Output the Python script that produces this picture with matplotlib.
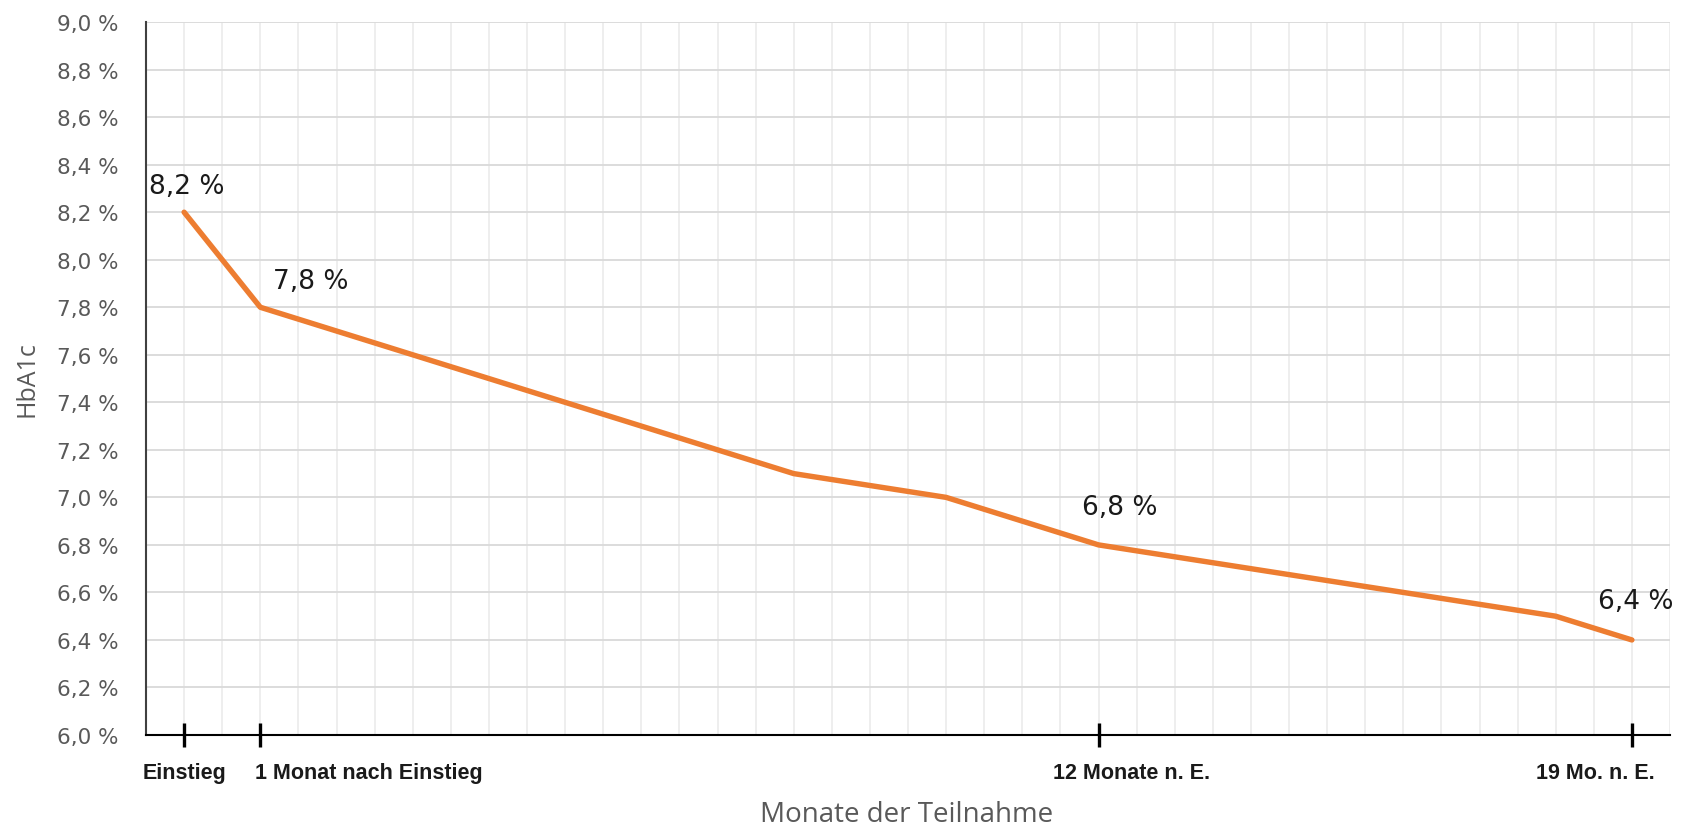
"""HbA1c over months of participation."""

import matplotlib

matplotlib.use("Agg")
import matplotlib.pyplot as plt
import numpy as np
from matplotlib.ticker import FuncFormatter, MultipleLocator

# months after entry and HbA1c values (%)
months = list(range(20))
hba1c = [8.2, 7.8, 7.7, 7.6, 7.5, 7.4, 7.3, 7.2, 7.1, 7.05,
         7.0, 6.9, 6.8, 6.75, 6.7, 6.65, 6.6, 6.55, 6.5, 6.4]

tick_months = [0, 1, 12, 19]
tick_labels = ["Einstieg", "1 Monat nach Einstieg", "12 Monate n. E.", "19 Mo. n. E."]
tick_label_shift = [0, 78, 24, -26]  # points, the labels are not centred on their ticks

label_months = [0, 1, 12, 19]
label_offsets = [(2, 19), (36, 19), (15, 27), (3, 28)]

ORANGE = "#ED7D31"
GRAY = "#595959"

fig = plt.figure(figsize=(16.92, 8.28), dpi=100)
ax = fig.add_axes([0.0863, 0.1111, 0.9007, 0.861])

ax.plot(months, hba1c, color=ORANGE, linewidth=3.9, solid_capstyle="round",
        solid_joinstyle="round", zorder=3)

for m, (dx, dy) in zip(label_months, label_offsets):
    v = hba1c[months.index(m)]
    ax.annotate(f"{v:.1f} %".replace(".", ","), (m, v), textcoords="offset points",
                xytext=(dx, dy), ha="center", va="center", fontsize=19,
                family="DejaVu Sans", color="#1a1a1a")

ax.set_xlim(-0.5, 19.5)
ax.set_ylim(6.0, 9.0)

# grid
ax.yaxis.set_major_locator(MultipleLocator(0.2))
ax.yaxis.set_major_formatter(FuncFormatter(lambda v, _: f"{v:.1f} %".replace(".", ",")))
for x in np.arange(-0.5, 19.51, 0.5):
    ax.axvline(x, color="#ebebeb", linewidth=1.2, zorder=0)
for y in np.arange(6.2, 9.01, 0.2):
    ax.axhline(y, color="#d9d9d9", linewidth=1.3, zorder=1)

ax.set_xticks(tick_months)
ax.set_xticklabels([])
ax.tick_params(axis="x", direction="inout", length=17, width=2.4, color="black")
for m, lab, sh in zip(tick_months, tick_labels, tick_label_shift):
    ax.annotate(lab, (m, 0), xycoords=("data", "axes fraction"), textcoords="offset points",
                xytext=(sh, -27), ha="center", va="center", fontsize=15.5,
                fontweight="bold", family="Liberation Sans", color="#1a1a1a")

ax.tick_params(axis="y", length=0, pad=20, labelcolor=GRAY, labelsize=15.5)
for lab in ax.get_yticklabels():
    lab.set_family("DejaVu Sans")

for side in ("top", "right"):
    ax.spines[side].set_visible(False)
ax.spines["left"].set_color("#404040")
ax.spines["left"].set_linewidth(1.5)
ax.spines["bottom"].set_color("black")
ax.spines["bottom"].set_linewidth(1.5)

fig.text(0.016, 0.542, "HbA1c", rotation=90, ha="center", va="center",
         color=GRAY, fontsize=18, family="Open Sans")
fig.text(0.536, 0.016, "Monate der Teilnahme", ha="center", va="center",
         color=GRAY, fontsize=20, family="Open Sans")

fig.savefig("out.png", dpi=100)
